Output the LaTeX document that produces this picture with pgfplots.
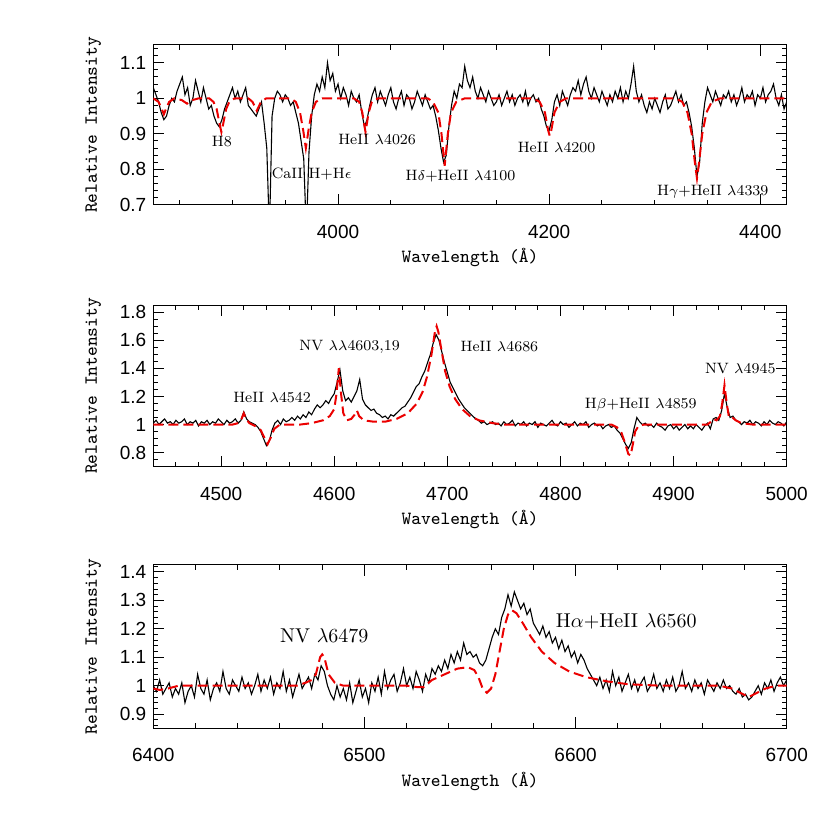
\documentclass[border=0pt]{standalone}
\usepackage{fontspec}
\usepackage{pgfplots}
\pgfplotsset{compat=1.18}
\newfontfamily\tickfont{Liberation Sans}
\definecolor{modelred}{RGB}{235,0,0}
\pgfplotsset{
  specbase/.style={
    scale only axis, anchor=south west, width=316.7pt,
    axis line style={line width=0.5pt},
    tick align=inside, tick pos=both,
    major tick length=5.5pt, minor tick length=2.5pt,
    every tick/.style={line width=0.5pt, black},
    ticklabel style={font=\tickfont\fontsize{9.5}{11}\selectfont},
    /pgf/number format/assume math mode=true,
    /pgf/number format/1000 sep={},
    xticklabel style={yshift=-6.5pt},
    xlabel={Wavelength (\AA)},
    ylabel={Relative Intensity},
    label style={font=\ttfamily\fontsize{9.3}{11}\selectfont},
    xlabel style={at={(axis description cs:0.5,-0.325)}, anchor=center},
    ylabel style={at={(axis description cs:-0.0947,0.5)}, anchor=center},
  },
  spec/.style={black, line width=0.55pt},
  model/.style={modelred, line width=1pt, dash pattern=on 5pt off 2.5pt},
}
\tikzset{
  ann/.style={font=\fontsize{7.5}{9}\selectfont, inner sep=0pt},
  annbig/.style={font=\fontsize{10}{12}\selectfont, inner sep=0pt},
}
\begin{document}
\begin{tikzpicture}
\path[use as bounding box] (0pt,0pt) rectangle (415pt,415pt);
% ---------------- Panel 1 ----------------
\begin{axis}[specbase, at={(76.65pt,312.5pt)}, height=80pt,
  xmin=3825, xmax=4425, ymin=0.7, ymax=1.15,
  xtick={4000,4200,4400}, minor xtick={3850,3900,...,4400},
  ytick={0.7,0.8,0.9,1,1.1}, minor ytick={0.72,0.74,...,1.14}]
\addplot[spec] table[row sep=\\, header=false, y index=0, x expr=3825+2.5*\coordindex]{
1.03\\1.01\\0.99\\0.96\\0.94\\0.95\\0.98\\1.00\\0.99\\1.02\\
1.04\\1.06\\1.01\\1.03\\0.98\\1.00\\1.05\\1.02\\0.99\\1.03\\
1.00\\0.97\\0.98\\0.95\\0.93\\0.92\\0.94\\0.97\\0.99\\1.01\\
1.03\\1.00\\1.02\\0.99\\1.01\\1.03\\0.98\\0.97\\0.96\\0.95\\
0.97\\0.99\\0.93\\0.86\\0.62\\0.95\\1.00\\1.02\\1.01\\0.99\\
1.01\\1.00\\0.98\\0.99\\0.96\\0.93\\0.88\\0.83\\0.62\\0.85\\
0.95\\1.01\\1.04\\1.02\\1.06\\1.03\\1.10\\1.05\\1.07\\1.02\\
1.04\\1.00\\1.03\\1.01\\0.98\\1.02\\1.00\\0.99\\1.01\\0.96\\
0.92\\0.94\\0.98\\1.01\\1.03\\0.99\\1.02\\1.00\\0.98\\1.01\\
1.03\\0.99\\0.97\\1.00\\1.02\\0.98\\1.01\\1.00\\0.97\\0.99\\
1.02\\1.00\\0.98\\1.01\\0.99\\0.97\\0.98\\0.95\\0.91\\0.86\\
0.82\\0.84\\0.92\\0.98\\1.02\\1.00\\1.04\\1.03\\1.09\\1.05\\
1.03\\1.06\\1.02\\1.00\\1.03\\1.01\\0.99\\1.02\\1.00\\0.98\\
0.99\\1.01\\0.98\\1.00\\1.02\\0.99\\1.01\\0.98\\1.00\\1.01\\
0.99\\1.02\\0.98\\1.00\\1.01\\0.99\\1.00\\0.97\\0.95\\0.92\\
0.91\\0.94\\0.99\\1.01\\0.98\\1.02\\1.00\\0.98\\1.01\\1.03\\
1.02\\1.05\\1.01\\1.04\\1.06\\1.02\\1.00\\1.03\\1.01\\0.99\\
1.02\\1.00\\0.98\\1.01\\0.99\\1.02\\1.00\\1.03\\0.99\\1.02\\
1.00\\1.04\\1.09\\1.02\\0.99\\1.01\\0.98\\0.96\\0.99\\0.97\\
1.00\\0.98\\0.96\\0.99\\1.01\\0.97\\0.98\\1.00\\1.02\\0.99\\
1.01\\0.98\\0.99\\0.96\\0.92\\0.86\\0.78\\0.82\\0.93\\0.99\\
1.03\\1.01\\0.99\\1.02\\1.00\\0.98\\1.01\\1.00\\1.02\\0.99\\
1.01\\0.98\\1.00\\1.03\\0.99\\1.01\\1.00\\1.02\\0.98\\1.01\\
1.00\\1.03\\0.99\\1.01\\1.02\\1.04\\1.00\\0.98\\1.01\\0.97\\0.99\\
};
\addplot[model] coordinates {(3825,1.0)(3830,0.99)(3833,0.97)(3835,0.955)(3837,0.97)(3840,0.99)(3845,1.0)(3852,0.995)(3857,0.985)(3862,0.995)(3868,1.0)(3878,1.0)(3882,0.99)(3885,0.97)(3888,0.925)(3889.5,0.905)(3891,0.925)(3894,0.97)(3897,0.99)(3902,1.0)(3915,1.0)(3919,0.99)(3923,0.965)(3927,0.99)(3932,1.0)(3955,1.0)(3960,0.99)(3964,0.96)(3967,0.91)(3969.5,0.86)(3972,0.91)(3975,0.96)(3979,0.99)(3985,1.0)(4015,1.0)(4020,0.99)(4023,0.96)(4026,0.905)(4029,0.96)(4032,0.99)(4038,1.0)(4085,1.0)(4090,0.99)(4095,0.96)(4098,0.9)(4101,0.81)(4104,0.9)(4107,0.96)(4112,0.99)(4120,1.0)(4185,1.0)(4191,0.99)(4196,0.96)(4199,0.91)(4200.5,0.895)(4202,0.91)(4205,0.96)(4210,0.99)(4216,1.0)(4320,1.0)(4326,0.99)(4331,0.96)(4335,0.9)(4338,0.82)(4340,0.775)(4342,0.82)(4345,0.9)(4349,0.96)(4354,0.99)(4362,1.0)(4425,1.0)};
\node[ann] at (axis cs:3890,0.878) {H8};
\node[ann] at (axis cs:3975,0.787) {CaII H+H$\epsilon$};
\node[ann] at (axis cs:4037,0.883) {HeII $\lambda$4026};
\node[ann] at (axis cs:4116,0.78) {H$\delta$+HeII $\lambda$4100};
\node[ann] at (axis cs:4207,0.862) {HeII $\lambda$4200};
\node[ann] at (axis cs:4355,0.737) {H$\gamma$+HeII $\lambda$4339};
\end{axis}
% ---------------- Panel 2 ----------------
\begin{axis}[specbase, at={(76.65pt,181.65pt)}, height=80.8pt,
  xmin=4440, xmax=5000, ymin=0.7, ymax=1.85,
  xtick={4500,4600,4700,4800,4900,5000}, minor xtick={4440,4460,...,5000},
  ytick={0.8,1,1.2,1.4,1.6,1.8}, minor ytick={0.7,0.75,...,1.85}]
\addplot[spec] table[row sep=\\, header=false, y index=0, x expr=4440+2.5*\coordindex]{
1.01\\1.03\\1.00\\1.02\\1.04\\1.01\\1.02\\1.00\\1.03\\1.01\\
1.02\\1.04\\1.00\\1.02\\1.01\\1.03\\0.99\\1.02\\1.01\\1.03\\
1.00\\1.02\\1.01\\1.04\\1.02\\1.00\\1.03\\1.01\\1.02\\1.04\\
1.01\\1.03\\1.09\\1.04\\1.02\\1.01\\1.00\\0.98\\0.95\\0.90\\
0.85\\0.88\\0.96\\1.01\\1.03\\1.00\\1.04\\1.02\\1.03\\1.05\\
1.03\\1.06\\1.04\\1.07\\1.05\\1.09\\1.07\\1.11\\1.14\\1.12\\
1.14\\1.17\\1.15\\1.19\\1.22\\1.30\\1.39\\1.24\\1.17\\1.19\\
1.16\\1.20\\1.24\\1.32\\1.18\\1.14\\1.12\\1.10\\1.11\\1.08\\
1.07\\1.05\\1.06\\1.04\\1.07\\1.06\\1.08\\1.10\\1.12\\1.13\\
1.16\\1.19\\1.23\\1.27\\1.29\\1.34\\1.38\\1.44\\1.50\\1.58\\
1.64\\1.60\\1.52\\1.44\\1.37\\1.30\\1.26\\1.22\\1.18\\1.15\\
1.12\\1.10\\1.08\\1.06\\1.04\\1.03\\1.01\\1.02\\1.00\\1.01\\
1.02\\1.00\\1.01\\0.99\\1.02\\1.00\\1.01\\1.03\\0.99\\1.01\\
1.00\\1.02\\0.99\\1.01\\1.00\\1.02\\0.98\\1.01\\1.00\\0.99\\
1.01\\1.03\\1.00\\0.99\\1.02\\1.00\\1.01\\0.98\\1.00\\1.02\\
0.99\\1.01\\1.00\\1.02\\0.98\\1.00\\1.01\\0.99\\1.00\\0.97\\
0.99\\1.00\\0.98\\0.99\\0.96\\0.94\\0.90\\0.86\\0.83\\0.87\\
0.97\\1.05\\1.02\\1.00\\1.01\\0.99\\1.00\\0.98\\1.01\\0.99\\
0.98\\0.96\\0.99\\1.00\\0.97\\0.99\\0.96\\0.98\\1.00\\0.97\\
0.99\\0.97\\1.00\\0.98\\0.96\\0.99\\1.01\\0.97\\1.04\\1.05\\
1.03\\1.10\\1.22\\1.12\\1.05\\1.06\\1.03\\1.02\\1.00\\1.02\\
1.01\\1.03\\1.00\\1.02\\1.01\\0.99\\1.02\\1.00\\1.03\\1.01\\
1.00\\1.02\\1.01\\0.99\\1.02\\
};
\addplot[model] coordinates {(4440,1.0)(4510,1.0)(4515,1.01)(4518,1.04)(4520,1.08)(4522,1.04)(4525,1.01)(4530,0.99)(4535,0.96)(4538,0.91)(4541,0.86)(4544,0.91)(4547,0.97)(4552,1.0)(4570,1.0)(4580,1.01)(4590,1.03)(4596,1.06)(4600,1.11)(4602,1.22)(4604,1.40)(4606,1.22)(4608,1.08)(4611,1.03)(4615,1.04)(4618,1.07)(4620,1.10)(4622,1.06)(4626,1.03)(4635,1.02)(4645,1.02)(4655,1.04)(4665,1.08)(4673,1.15)(4678,1.23)(4682,1.34)(4686,1.50)(4689,1.66)(4690.5,1.70)(4692,1.66)(4695,1.52)(4698,1.38)(4702,1.27)(4707,1.18)(4713,1.11)(4720,1.06)(4728,1.03)(4740,1.01)(4750,1.0)(4845,1.0)(4850,0.98)(4854,0.94)(4857,0.87)(4860,0.79)(4862,0.78)(4864,0.86)(4866,0.95)(4869,0.99)(4874,1.0)(4930,1.0)(4933,1.02)(4935,1.04)(4938,1.03)(4941,1.06)(4943,1.15)(4945,1.28)(4947,1.15)(4949,1.05)(4952,1.05)(4955,1.03)(4960,1.01)(4970,1.0)(5000,1.0)};
\node[ann] at (axis cs:4545,1.194) {HeII $\lambda$4542};
\node[ann] at (axis cs:4613.5,1.553) {NV $\lambda\lambda$4603,19};
\node[ann] at (axis cs:4746,1.553) {HeII $\lambda$4686};
\node[ann] at (axis cs:4871,1.139) {H$\beta$+HeII $\lambda$4859};
\node[ann] at (axis cs:4959,1.40) {NV $\lambda$4945};
\end{axis}
% ---------------- Panel 3 ----------------
\begin{axis}[specbase, at={(76.65pt,50.85pt)}, height=81.7pt,
  xmin=6400, xmax=6700, ymin=0.85, ymax=1.425,
  xtick={6400,6500,6600,6700}, minor xtick={6400,6420,...,6700},
  ytick={0.9,1,1.1,1.2,1.3,1.4}, minor ytick={0.86,0.88,...,1.42}]
\addplot[spec] table[row sep=\\, header=false, y index=0, x expr=6400+1.5*\coordindex]{
1.00\\0.98\\1.02\\0.97\\0.99\\1.01\\0.96\\0.99\\0.97\\1.01\\
0.94\\0.98\\1.00\\0.96\\1.04\\0.99\\0.97\\1.02\\0.95\\0.99\\
1.01\\0.98\\1.05\\0.99\\0.97\\1.02\\1.00\\0.98\\1.03\\0.99\\
1.01\\0.97\\1.00\\1.04\\0.98\\1.02\\0.99\\1.03\\0.97\\1.01\\
0.99\\1.05\\0.98\\1.02\\0.96\\1.00\\1.04\\0.99\\1.01\\1.03\\
0.99\\1.04\\1.02\\1.07\\1.05\\1.00\\0.97\\0.95\\1.00\\0.96\\
0.99\\0.95\\1.01\\0.94\\0.98\\1.02\\0.96\\0.99\\0.94\\1.01\\
0.98\\1.03\\0.97\\1.05\\0.99\\1.02\\1.04\\0.98\\1.01\\1.06\\
1.00\\1.03\\0.99\\1.05\\1.02\\0.98\\1.04\\1.01\\1.06\\1.04\\
1.07\\1.05\\1.09\\1.06\\1.11\\1.08\\1.12\\1.09\\1.15\\1.11\\
1.12\\1.10\\1.11\\1.08\\1.07\\1.09\\1.13\\1.17\\1.20\\1.18\\
1.24\\1.27\\1.32\\1.28\\1.33\\1.30\\1.27\\1.29\\1.25\\1.27\\
1.22\\1.20\\1.18\\1.21\\1.17\\1.19\\1.15\\1.17\\1.13\\1.16\\
1.12\\1.14\\1.10\\1.12\\1.08\\1.11\\1.09\\1.06\\1.04\\1.02\\
1.00\\1.03\\0.99\\1.02\\0.98\\1.05\\1.00\\1.03\\0.98\\1.01\\
1.04\\0.99\\1.02\\0.98\\1.01\\1.03\\0.98\\1.00\\1.04\\0.99\\
1.01\\0.98\\1.02\\0.99\\1.03\\0.98\\1.00\\1.05\\0.99\\1.01\\
0.98\\1.02\\0.99\\1.01\\0.97\\1.02\\1.00\\0.98\\1.01\\0.99\\
1.02\\0.99\\1.00\\0.98\\0.97\\0.99\\0.96\\0.97\\0.95\\0.96\\
0.98\\1.00\\0.97\\1.01\\0.99\\1.02\\0.98\\1.01\\1.03\\1.00\\1.02\\
};
\addplot[model] coordinates {(6400,0.99)(6403,0.985)(6407,0.99)(6412,1.0)(6468,1.0)(6472,1.01)(6475,1.02)(6477,1.04)(6479,1.10)(6480,1.11)(6481,1.10)(6483,1.04)(6486,1.01)(6490,1.0)(6520,1.0)(6525,0.995)(6528,0.995)(6532,1.02)(6538,1.04)(6544,1.06)(6549,1.065)(6552,1.055)(6554,1.03)(6556,0.99)(6558,0.975)(6560,0.99)(6562,1.04)(6564,1.12)(6566,1.2)(6568,1.25)(6570,1.265)(6572,1.255)(6575,1.22)(6579,1.17)(6584,1.12)(6590,1.08)(6597,1.05)(6605,1.03)(6615,1.015)(6625,1.005)(6640,1.0)(6668,1.0)(6674,0.99)(6678,0.975)(6682,0.96)(6686,0.975)(6690,0.99)(6695,1.0)(6700,1.0)};
\node[annbig] at (axis cs:6481,1.174) {NV $\lambda$6479};
\node[annbig] at (axis cs:6624,1.225) {H$\alpha$+HeII $\lambda$6560};
\end{axis}
\end{tikzpicture}
\end{document}
